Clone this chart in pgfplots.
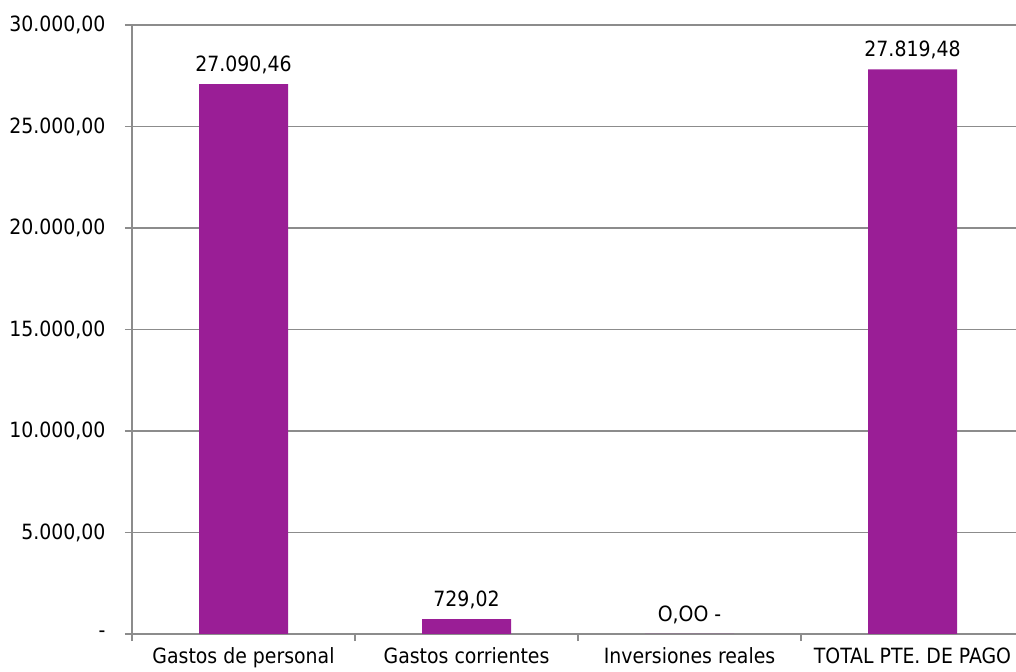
\documentclass[border=0pt]{standalone}
\usepackage{pgfplots}
\pgfplotsset{compat=1.18}
\usepackage{pgfplotstable}
\usepackage{fontspec}
\setmainfont{DejaVu Sans Condensed}
\usetikzlibrary{calc}
\definecolor{barc}{HTML}{9A1E96}
\definecolor{gridc}{HTML}{8C8C8C}
\newcommand\lab{\fontsize{21bp}{25bp}\selectfont}
\pgfplotstableread{
x y label
0 27090.46 {27.090,46}
1 729.02 {729,02}
2 0 {O,OO -}
3 27819.48 {27.819,48}
}\data
\begin{document}
\begin{tikzpicture}
\begin{axis}[
  scale only axis,
  width=884bp, height=609bp,
  xmin=-0.5, xmax=3.464,
  ymin=0, ymax=30000,
  scaled y ticks=false,
  axis x line=bottom, axis y line=left,
  axis line style={-, draw=gridc, line width=1.2bp},
  ytick={0,5000,10000,15000,20000,25000,30000},
  yticklabels={-,{5.000,00},{10.000,00},{15.000,00},{20.000,00},{25.000,00},{30.000,00}},
  yticklabel style={font=\lab, xshift=-16bp},
  ymajorgrids,
  grid style={draw=gridc, line width=1.2bp},
  tick align=outside,
  major tick length=7bp,
  tick style={draw=gridc, line width=1.2bp},
  xtick={-0.5,0.5,1.5,2.5},
  xticklabels={},
  extra x ticks={0,1,2,3},
  extra x tick labels={Gastos de personal,Gastos corrientes,Inversiones reales,TOTAL PTE. DE PAGO},
  extra x tick style={major tick length=0pt, xticklabel style={font=\lab, yshift=-10bp}, grid=none},
  ybar, bar width=89bp,
  nodes near coords,
  point meta=explicit symbolic,
  every node near coord/.append style={font=\lab, text=black, yshift=7bp},
  clip=false,
]
\addplot[fill=barc, draw=none] table[x=x, y=y, meta=label] {\data};
\end{axis}
\pgfresetboundingbox
\path ($(current axis.south west)+(-132bp,-38bp)$) rectangle ($(current axis.north east)+(0,25bp)$);
\end{tikzpicture}
\end{document}
